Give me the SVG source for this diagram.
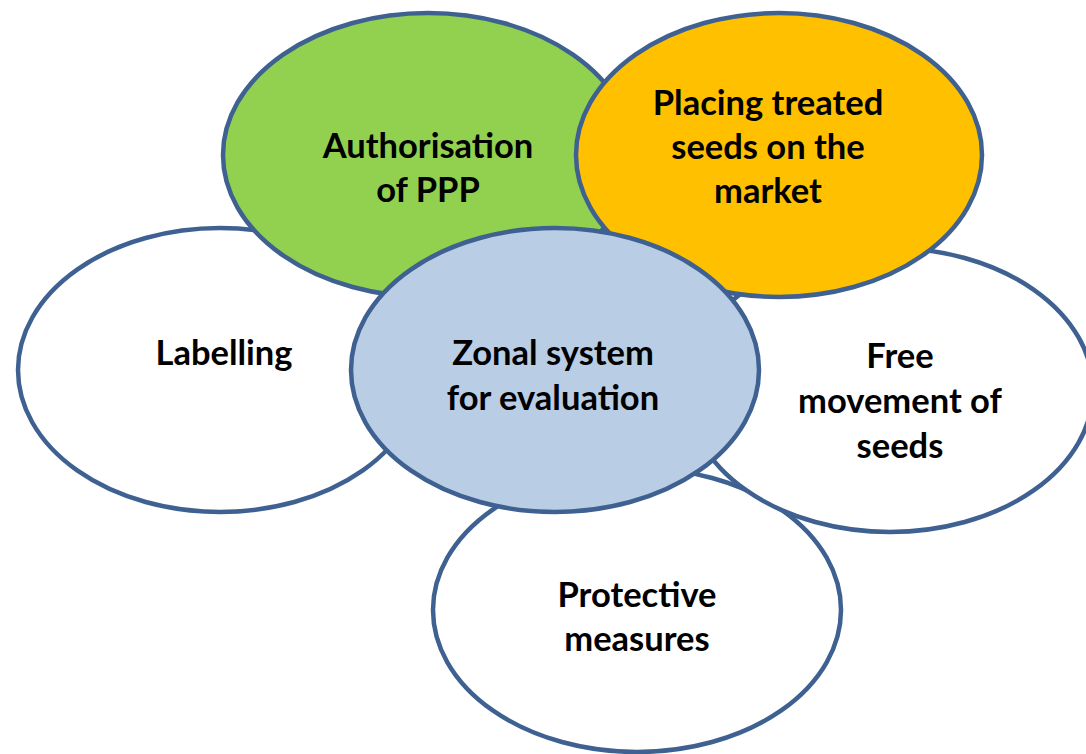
<svg xmlns="http://www.w3.org/2000/svg" width="1086" height="754" viewBox="0 0 1086 754">
  <style>
    .shape { stroke: #3E6191; stroke-width: 4.5; }
    .white { fill: #FFFFFF; }
    .green { fill: #92D050; }
    .orange { fill: #FFC000; }
    .blue { fill: #B9CDE5; }
    .label { font-family: Lato, "Open Sans", "Liberation Sans", sans-serif; font-weight: bold; font-size: 34.5px; fill: #000000; text-anchor: middle; }
  </style>
  <rect x="0" y="0" width="1086" height="754" fill="#FFFFFF"/>
  <g id="connectors"></g>
  <g id="node-labelling">
    <ellipse class="shape white" cx="220" cy="370" rx="202" ry="142"/>
    <text class="label" x="224" y="365">Labelling</text>
  </g>
  <g id="node-protective">
    <ellipse class="shape white" cx="637" cy="610" rx="204" ry="142"/>
    <text class="label" x="637" y="607">Protective</text>
    <text class="label" x="637" y="651">measures</text>
  </g>
  <g id="node-free-movement">
    <ellipse class="shape white" cx="890" cy="390" rx="203" ry="142"/>
    <text class="label" x="900" y="368">Free</text>
    <text class="label" x="900" y="413">movement of</text>
    <text class="label" x="900" y="458">seeds</text>
  </g>
  <g id="node-authorisation">
    <ellipse class="shape green" cx="428" cy="155" rx="205" ry="142"/>
    <text class="label" x="428" y="158">Authorisation</text>
    <text class="label" x="428" y="202">of PPP</text>
  </g>
  <g id="node-placing">
    <ellipse class="shape orange" cx="779" cy="155" rx="203" ry="142"/>
    <text class="label" x="768" y="115">Placing treated</text>
    <text class="label" x="768" y="159">seeds on the</text>
    <text class="label" x="768" y="203">market</text>
  </g>
  <g id="node-zonal">
    <ellipse class="shape blue" cx="555" cy="370" rx="204" ry="142"/>
    <text class="label" x="553" y="365">Zonal system</text>
    <text class="label" x="553" y="410">for evaluation</text>
  </g>
</svg>
